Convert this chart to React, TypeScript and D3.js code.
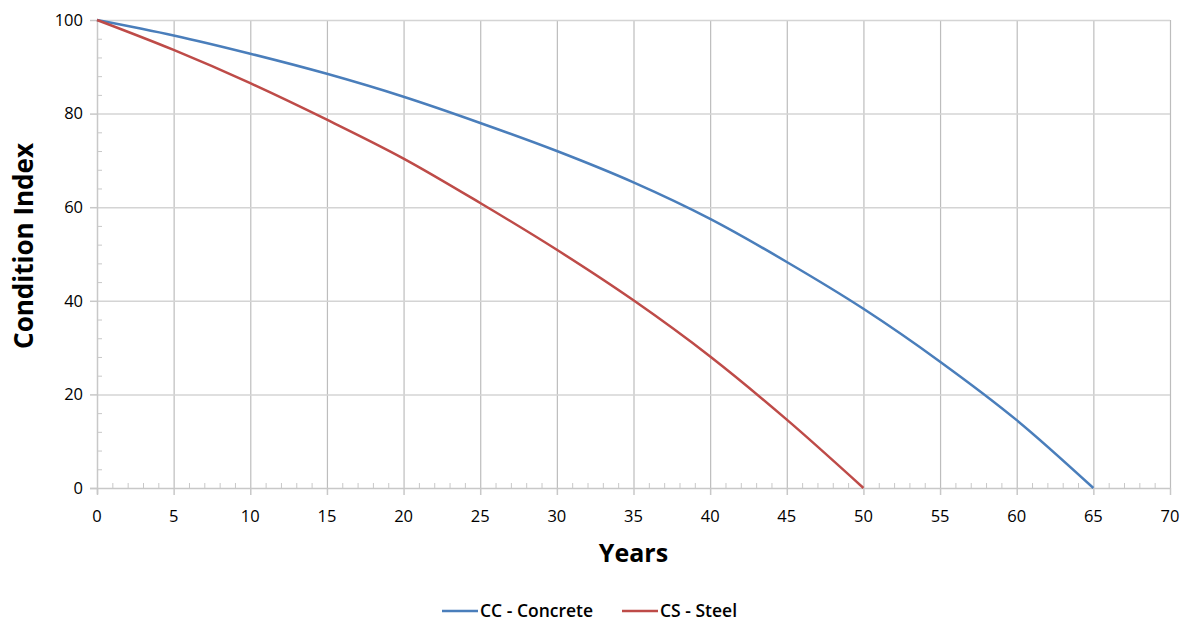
import React, { useEffect, useRef } from 'react';
import * as d3 from 'd3';

// Condition index per 5-year step
const concreteYears = [0, 5, 10, 15, 20, 25, 30, 35, 40, 45, 50, 55, 60, 65];
const concreteValues = [100, 96.7, 92.8, 88.5, 83.6, 78.0, 72.0, 65.3, 57.5, 48.3, 38.3, 27.0, 14.5, 0];
const steelYears = [0, 5, 10, 15, 20, 25, 30, 35, 40, 45, 50];
const steelValues = [100, 93.6, 86.5, 78.7, 70.4, 60.9, 50.9, 40.1, 28.1, 14.6, 0];
const xTicks = [0, 5, 10, 15, 20, 25, 30, 35, 40, 45, 50, 55, 60, 65, 70];
const yTicks = [0, 20, 40, 60, 80, 100];
const seriesNames = ['CC - Concrete', 'CS - Steel'];
const seriesColors = ['#4A7EBB', '#BE4B48'];

const W = 1189;
const H = 625;
const FONT = "'Open Sans', 'Liberation Sans', sans-serif";

function App() {
  const ref = useRef<SVGSVGElement | null>(null);

  useEffect(() => {
    document.body.style.margin = '0';
    const svg = d3.select(ref.current);
    svg.selectAll('*').remove();

    const x = d3.scaleLinear().domain([0, 70]).range([97, 1170]);
    const y = d3.scaleLinear().domain([0, 100]).range([488, 20]);

    const g = svg.append('g');

    // vertical grid
    g.selectAll('.vg')
      .data(xTicks.filter((d) => d > 0))
      .enter()
      .append('line')
      .attr('x1', (d) => x(d) + 0.5)
      .attr('x2', (d) => x(d) + 0.5)
      .attr('y1', y(100))
      .attr('y2', y(0))
      .attr('stroke', '#BDBDBD')
      .attr('stroke-width', 1.2);

    // horizontal grid
    g.selectAll('.hg')
      .data(yTicks.filter((d) => d > 0))
      .enter()
      .append('line')
      .attr('x1', x(0))
      .attr('x2', x(70))
      .attr('y1', (d) => y(d) + 0.5)
      .attr('y2', (d) => y(d) + 0.5)
      .attr('stroke', '#D4D4D4')
      .attr('stroke-width', 1.5);

    const axisColor = '#C8C8C8';

    // y axis line + ticks
    g.append('line')
      .attr('x1', x(0) + 0.5).attr('x2', x(0) + 0.5)
      .attr('y1', y(100)).attr('y2', y(0) + 6)
      .attr('stroke', axisColor).attr('stroke-width', 1.5);
    g.selectAll('.ymaj')
      .data(yTicks)
      .enter()
      .append('line')
      .attr('x1', x(0) - 7).attr('x2', x(0))
      .attr('y1', (d) => y(d) + 0.5).attr('y2', (d) => y(d) + 0.5)
      .attr('stroke', axisColor).attr('stroke-width', 1.5);
    g.selectAll('.ymin')
      .data(d3.range(0, 100, 4).filter((d) => d % 20 !== 0))
      .enter()
      .append('line')
      .attr('x1', x(0)).attr('x2', x(0) + 5)
      .attr('y1', (d) => y(d) + 0.5).attr('y2', (d) => y(d) + 0.5)
      .attr('stroke', axisColor).attr('stroke-width', 1);

    // x axis line + ticks
    g.append('line')
      .attr('x1', x(0) - 7).attr('x2', x(70) + 1)
      .attr('y1', y(0) + 0.5).attr('y2', y(0) + 0.5)
      .attr('stroke', axisColor).attr('stroke-width', 1.5);
    g.selectAll('.xmaj')
      .data(xTicks)
      .enter()
      .append('line')
      .attr('x1', (d) => x(d) + 0.5).attr('x2', (d) => x(d) + 0.5)
      .attr('y1', y(0)).attr('y2', y(0) + 7)
      .attr('stroke', axisColor).attr('stroke-width', 1.5);
    g.selectAll('.xmin')
      .data(d3.range(0, 70).filter((d) => d % 5 !== 0))
      .enter()
      .append('line')
      .attr('x1', (d) => x(d) + 0.5).attr('x2', (d) => x(d) + 0.5)
      .attr('y1', y(0) - 5).attr('y2', y(0))
      .attr('stroke', axisColor).attr('stroke-width', 1);

    // tick labels
    g.selectAll('.yl')
      .data(yTicks)
      .enter()
      .append('text')
      .attr('x', 83)
      .attr('y', (d) => y(d))
      .attr('dy', '0.35em')
      .attr('text-anchor', 'end')
      .attr('font-family', FONT)
      .attr('font-size', 16.5)
      .attr('fill', '#000')
      .text((d) => d);
    g.selectAll('.xl')
      .data(xTicks)
      .enter()
      .append('text')
      .attr('x', (d) => x(d))
      .attr('y', 516)
      .attr('dy', '0.35em')
      .attr('text-anchor', 'middle')
      .attr('font-family', FONT)
      .attr('font-size', 16.5)
      .attr('fill', '#000')
      .text((d) => d);

    // axis titles
    g.append('text')
      .attr('x', x(35))
      .attr('y', 553)
      .attr('dy', '0.35em')
      .attr('text-anchor', 'middle')
      .attr('font-family', FONT)
      .attr('font-weight', 'bold')
      .attr('font-size', 25)
      .text('Years');
    g.append('text')
      .attr('transform', 'translate(24,246) rotate(-90)')
      .attr('dy', '0.35em')
      .attr('text-anchor', 'middle')
      .attr('font-family', FONT)
      .attr('font-weight', 'bold')
      .attr('font-size', 26)
      .text('Condition Index');

    // lines
    const line = d3
      .line<[number, number]>()
      .x((d) => x(d[0]))
      .y((d) => y(d[1]))
      .curve(d3.curveMonotoneX);

    const series: [number, number][][] = [
      concreteYears.map((yr, i) => [yr, concreteValues[i]]),
      steelYears.map((yr, i) => [yr, steelValues[i]]),
    ];
    series.forEach((s, i) => {
      g.append('path')
        .datum(s)
        .attr('d', line)
        .attr('fill', 'none')
        .attr('stroke', seriesColors[i])
        .attr('stroke-width', 2.5)
        .attr('stroke-linejoin', 'round');
    });

    // legend
    const legendX = [442, 622];
    seriesNames.forEach((name, i) => {
      const lg = g.append('g').attr('transform', `translate(${legendX[i]},611)`);
      lg.append('line')
        .attr('x1', 0).attr('x2', 36)
        .attr('y1', 0).attr('y2', 0)
        .attr('stroke', seriesColors[i])
        .attr('stroke-width', 2.5);
      lg.append('text')
        .attr('x', 38)
        .attr('dy', '0.35em')
        .attr('font-family', FONT)
        .attr('font-weight', 600)
        .attr('font-size', 17.5)
        .attr('fill', '#000')
        .text(name);
    });
  }, []);

  return <svg ref={ref} width={W} height={H} style={{ display: 'block', background: '#fff' }} />;
}

export default App;
